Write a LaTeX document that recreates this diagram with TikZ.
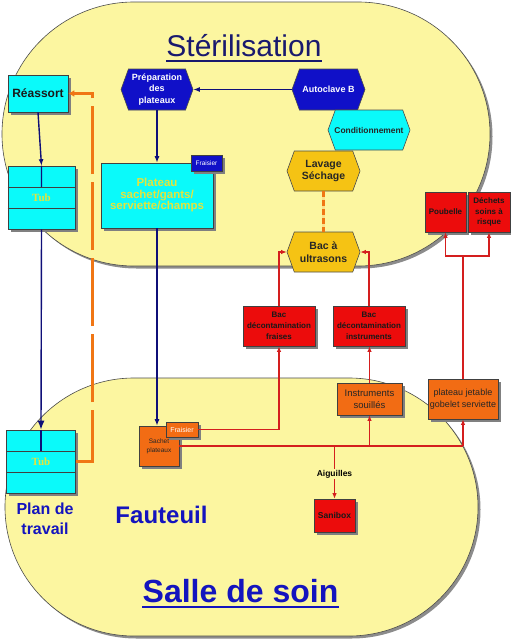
\documentclass[tikz,border=0pt]{standalone}
\usepackage{fontspec}
\setmainfont{Liberation Sans}
\newfontfamily\serifb{Liberation Serif}
\usetikzlibrary{shapes.symbols,shadows,arrows.meta,calc}
\definecolor{bgyellow}{RGB}{252,246,160}
\definecolor{cyanf}{RGB}{10,250,250}
\definecolor{navyhex}{RGB}{16,16,200}
\definecolor{navyln}{RGB}{15,15,120}
\definecolor{goldf}{RGB}{245,195,20}
\definecolor{redf}{RGB}{236,12,12}
\definecolor{redln}{RGB}{212,30,30}
\definecolor{orangef}{RGB}{242,108,20}
\definecolor{orangeln}{RGB}{240,118,20}
\definecolor{paleorange}{RGB}{252,225,140}
\definecolor{titlenavy}{RGB}{25,25,110}
\definecolor{titleblue}{RGB}{20,20,190}
\definecolor{tubyellow}{RGB}{228,228,60}
\newcommand{\fsz}[2]{\fontsize{#1}{#2}\selectfont}
\tikzset{
  shadowed/.style={drop shadow={shadow xshift=2.5pt,shadow yshift=-2.5pt,fill=black!50,opacity=1}},
  box/.style={rectangle, draw=black!75, line width=0.6pt, inner sep=0.5pt, align=center, shadowed},
  hexa/.style={signal, signal to=east and west, signal pointer angle=140, draw=black!70, line width=0.6pt, inner sep=0.5pt, align=center},
  cyanbox/.style={box, fill=cyanf},
  redbox/.style={box, fill=redf, font=\fsz{8}{10.8}\bfseries, text=black!90},
  orangebox/.style={box, fill=orangef, text=black!85},
  navyarrow/.style={draw=navyln, line width=1.4pt, -{Latex[length=6.5pt,width=5pt]}},
  redarrow/.style={draw=redln, line width=1.3pt, -{Latex[length=5.5pt,width=4.5pt]}},
  redwire/.style={draw=redln, line width=1.3pt},
  zone/.style={fill=bgyellow, draw=black!70, line width=0.6pt, drop shadow={shadow xshift=2.5pt,shadow yshift=-2.5pt,fill=black!45,opacity=1}},
}
\begin{document}
\begin{tikzpicture}[x=1pt,y=-1pt]
\useasboundingbox (0,0) rectangle (511,640);
\fill[white] (0,0) rectangle (511,640);
% zones
\path[zone, rounded corners=132pt] (2,2) rectangle (490,266);
\path[zone, rounded corners=129pt] (5,378) rectangle (478,636);
% titles
\node[anchor=base, text=titlenavy, font=\fsz{30}{36}, inner sep=0pt] (tster) at (244,56) {Stérilisation};
\draw[titlenavy, line width=2pt] ([yshift=-4.5pt]tster.base west) -- ([yshift=-4.5pt]tster.base east);
\node[anchor=base, text=titleblue, font=\fsz{32}{38}\bfseries, inner sep=0pt] (tsalle) at (240.5,602) {Salle de soin};
\draw[titleblue, line width=2.5pt] ([yshift=-5pt]tsalle.base west) -- ([yshift=-5pt]tsalle.base east);
\node[anchor=base, text=titleblue, font=\fsz{24}{28}\bfseries, inner sep=0pt] (faut) at (161.5,523) {Fauteuil};
\node[align=center, text=titleblue, font=\fsz{16}{20}\bfseries, inner sep=0pt] (plan) at (45,519) {Plan de\\travail};
% left column
\node[cyanbox, minimum width=60pt, minimum height=37pt, font=\fsz{12}{14}\bfseries, text=black!90] (reassort) at (38,93.5) {Réassort};
\node[cyanbox, minimum width=67pt, minimum height=63pt, font=\serifb\fsz{11}{13}\bfseries, text=tubyellow] (tubA) at (41.5,197.5) {Tub};
\node[cyanbox, minimum width=69pt, minimum height=63pt, font=\serifb\fsz{11}{13}\bfseries, text=tubyellow] (tubB) at (41,461.5) {Tub};
\foreach \t in {tubA,tubB} {
  \draw[black!75, line width=0.6pt] ($(\t.north west)!1/3!(\t.south west)$) -- ($(\t.north east)!1/3!(\t.south east)$);
  \draw[black!75, line width=0.6pt] ($(\t.north west)!2/3!(\t.south west)$) -- ($(\t.north east)!2/3!(\t.south east)$);
  \draw[navyln, line width=1.4pt] (\t.north) -- ($(\t.north)!1/3!(\t.south)$);
}
% hexagons
\node[hexa, fill=navyhex, text=white, minimum width=72pt, minimum height=41pt, font=\fsz{9}{11.5}\bfseries] (prep) at (157,89.5) {Préparation\\des\\plateaux};
\node[hexa, fill=navyhex, text=white, minimum width=73pt, minimum height=41pt, font=\fsz{9}{11}\bfseries] (autoclave) at (328.5,89.5) {Autoclave B};
\node[hexa, fill=cyanf, text=black!85, minimum width=82pt, minimum height=40pt, font=\fsz{8.4}{10}\bfseries] (cond) at (369,130) {\makebox[50pt][c]{Conditionnement}};
\node[hexa, fill=goldf, text=black!85, minimum width=73pt, minimum height=40pt, font=\fsz{10.5}{12.5}\bfseries] (lavage) at (323.5,171) {Lavage\\Séchage};
\node[hexa, fill=goldf, text=black!85, minimum width=73pt, minimum height=40pt, font=\fsz{10.5}{12.5}\bfseries] (bacu) at (323.5,252) {Bac à\\ultrasons};
% plateau
\node[cyanbox, minimum width=112pt, minimum height=65pt, text=tubyellow, font=\fsz{11.5}{11.5}\bfseries] (plateau) at (157,195.5) {Plateau\\sachet/gants/\\serviette/champs};
\node[box, fill=navyhex, text=white, minimum width=31pt, minimum height=16pt, font=\fsz{6.5}{8}] (fraisB) at (206.5,163) {Fraisier};
% fauteuil items
\node[orangebox, minimum width=40pt, minimum height=40pt, font=\fsz{6.5}{9}] (sachet) at (159,446) {Sachet\\plateaux};
\node[orangebox, text=white, minimum width=32pt, minimum height=15pt, font=\fsz{7}{8}] (fraisO) at (182,429.5) {Fraisier};
\node[redbox, minimum width=72pt, minimum height=40pt] (bdf) at (279,326) {Bac\\décontamination\\fraises};
\node[redbox, minimum width=72pt, minimum height=40pt] (bdi) at (369,326) {Bac\\décontamination\\instruments};
\node[orangebox, minimum width=65pt, minimum height=32pt, font=\fsz{9.5}{12}] (instr) at (369.5,399) {Instruments\\souillés};
\node[orangebox, minimum width=70pt, minimum height=40pt, font=\fsz{9}{12}] (pj) at (463,399) {plateau jetable\\gobelet serviette};
\node[redbox, minimum width=41pt, minimum height=40pt] (poub) at (445.5,212) {Poubelle};
\node[redbox, minimum width=42pt, minimum height=40pt] (dech) at (489,212) {Déchets\\soins à\\risque};
\node[redbox, minimum width=41pt, minimum height=33pt, font=\fsz{8.5}{10}\bfseries] (sanibox) at (334.5,515.5) {Sanibox};
% navy connectors
\draw[navyarrow] (reassort.south) -- (tubA.north);
\draw[navyarrow, -{Latex[length=9pt,width=7pt]}] (tubA.south) -- (tubB.north);
\draw[navyarrow] (autoclave.west) -- (prep.east);
\draw[navyarrow] (prep.south) -- (plateau.north);
\draw[navyarrow] (plateau.south) -- (plateau.south |- sachet.north);
% orange connectors
\draw[orangeln, line width=3pt, dash pattern=on 68pt off 8pt, -{Latex[length=6pt,width=7pt]}] (tubB.east) -| ([xshift=24pt]reassort.east) -- (reassort.east);
\draw[paleorange, line width=3pt] (lavage.south) -- (bacu.north);
\draw[orangeln, line width=3pt, dash pattern=on 6pt off 3pt] (lavage.south) -- (bacu.north);
% red connectors
\draw[redarrow] (fraisO.east) -| (bdf.south);
\draw[redarrow] (bdf.north) |- (bacu.west);
\draw[redarrow] (bdi.north) |- (bacu.east);
\draw[redarrow] (instr.north) -- (instr.north |- bdi.south);
\coordinate (jn) at (463,256);
\draw[redwire] (pj.north) -- (jn);
\draw[redarrow] (jn) -| (poub.south);
\draw[redarrow] (jn) -| (dech.south);
\coordinate (hr) at (pj.south |- sachet.east);
\draw[redwire] (sachet.east) -- (hr);
\draw[redarrow] (hr) -- (pj.south);
\draw[redarrow] (instr.south |- sachet.east) -- (instr.south);
\draw[redarrow] (sanibox.north |- sachet.east) -- node[pos=0.53, fill=bgyellow, inner sep=1pt, text=black, font=\fsz{8.5}{10}\bfseries] (aig) {Aiguilles} (sanibox.north);
\end{tikzpicture}
\end{document}
